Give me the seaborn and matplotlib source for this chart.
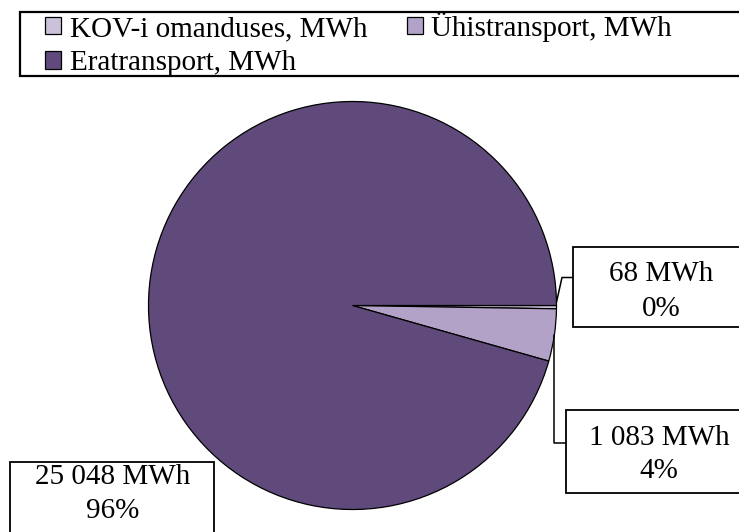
import matplotlib
matplotlib.use("Agg")

import matplotlib.pyplot as plt
import numpy as np
import seaborn as sns
from matplotlib.patches import Rectangle

categories = ["KOV-i omanduses, MWh", "Ühistransport, MWh", "Eratransport, MWh"]
energy_mwh = [68, 1083, 25048]
colors = ["#CCC1DA", "#B3A2C7", "#604A7B"]

sns.set_theme(style="white")
plt.rcParams["font.family"] = ["Liberation Serif", "DejaVu Serif"]
plt.rcParams["text.color"] = "black"

W, H = 739, 532
FS = 21
fig = plt.figure(figsize=(W / 100, H / 100), dpi=100)
ax = fig.add_axes([0, 0, 1, 1])

# pixel-like coords, y pointing down -> counterclock=True draws clockwise on screen
cx, cy, r = 352.5, 305.5, 204
wedges, _ = ax.pie(
    energy_mwh,
    colors=colors,
    startangle=0,
    counterclock=True,
    center=(cx, cy),
    radius=r,
    wedgeprops=dict(edgecolor="black", linewidth=0.9),
)
ax.set_xlim(0, W)
ax.set_ylim(H, 0)
ax.set_aspect("equal")
ax.axis("off")

total = sum(energy_mwh)
labels = [f"{v:,} MWh".replace(",", " ") for v in energy_mwh]
pcts = [f"{v / total * 100:.0f}%" for v in energy_mwh]

# label boxes: (box x0, y0, w, h), text centre x, line y's
boxes = [
    ((573, 246.5, 190, 80), 661, (274, 309)),
    ((566, 410, 190, 83), 659, (438, 471.5)),
    ((9.5, 462, 204, 90), 112.5, (476.5, 511.5)),
]
for (box, tx, (y1, y2)), lab, pct in zip(boxes, labels, pcts):
    ax.add_patch(Rectangle(box[:2], box[2], box[3], facecolor="white",
                           edgecolor="black", linewidth=1.3, zorder=3))
    ax.text(tx, y1, lab, ha="center", va="center", fontsize=FS, zorder=4)
    ax.text(tx, y2, pct, ha="center", va="center", fontsize=FS, zorder=4)

# leader lines from wedge mid angles
mids = [np.deg2rad((w.theta1 + w.theta2) / 2) for w in wedges]
ex0, ey0 = cx + r * np.cos(mids[0]), cy + r * np.sin(mids[0]) - 5
ax.plot([ex0, 562, 573], [ey0, 277.5, 277.5], color="black", lw=1.1, zorder=2)
ex1, ey1 = cx + r * np.cos(mids[1]), cy + r * np.sin(mids[1])
ax.plot([ex1, ex1, 566], [ey1, 443, 443], color="black", lw=1.1, zorder=2)

# legend, with a frame that runs off the right edge like the original
ax.add_patch(Rectangle((20, 12), 760, 64, facecolor="white",
                       edgecolor="black", linewidth=1.6, zorder=1))
# legend fills column-wise; reorder so the entries read row by row
order = [0, 2, 1]
leg = fig.legend(
    [wedges[i] for i in order], [categories[i] for i in order],
    loc="upper left",
    bbox_to_anchor=(45 / W, 1 - 12 / H),
    ncol=2,
    frameon=False,
    fontsize=FS,
    handlelength=0.55,
    handleheight=0.55,
    handletextpad=0.3,
    columnspacing=1.35,
    labelspacing=0.28,
    borderpad=0,
    borderaxespad=0,
)

fig.savefig("out.png", dpi=100)
